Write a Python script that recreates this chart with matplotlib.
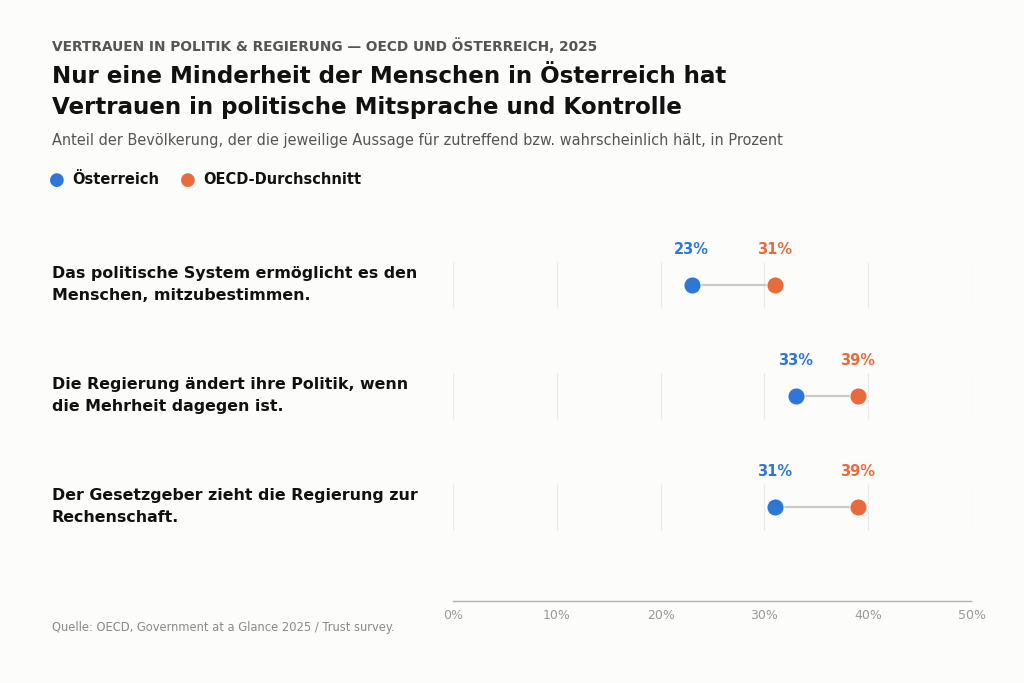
import matplotlib.pyplot as plt

plt.rcParams['font.family'] = ['DejaVu Sans']

statements = [
    "Das politische System ermöglicht es den\nMenschen, mitzubestimmen.",
    "Die Regierung ändert ihre Politik, wenn\ndie Mehrheit dagegen ist.",
    "Der Gesetzgeber zieht die Regierung zur\nRechenschaft.",
]
austria = [23, 33, 31]
oecd = [31, 39, 39]
xticks = [0, 10, 20, 30, 40, 50]

c_at = "#2e77d6"
c_oecd = "#e96b3c"
bg = "#fcfcfa"

fig = plt.figure(figsize=(10.24, 6.83), dpi=100, facecolor=bg)
W, H = 1024, 683
# axes: x 453..972 px, y 230..601 px
ax = fig.add_axes([453 / W, 1 - 601 / H, (972 - 453) / W, (601 - 230) / H])
ax.set_facecolor(bg)
ax.set_xlim(0, 50)
ax.set_ylim(2.847, -0.495)

for i in range(len(statements)):
    ax.vlines(xticks, i - 0.21, i + 0.21, color="#e9e9e9", lw=0.9, zorder=1)
    ax.plot([austria[i], oecd[i]], [i, i], color="#c9c9c9", lw=1.6, zorder=2)
    ax.scatter(austria[i], i, s=150, color=c_at, zorder=3, edgecolors="white", linewidths=0.6)
    ax.scatter(oecd[i], i, s=150, color=c_oecd, zorder=3, edgecolors="white", linewidths=0.6)
    ax.text(austria[i], i - 0.32, f"{austria[i]}%", color=c_at, fontsize=10.5,
            fontweight="bold", ha="center", va="center")
    ax.text(oecd[i], i - 0.32, f"{oecd[i]}%", color=c_oecd, fontsize=10.5,
            fontweight="bold", ha="center", va="center")
    ax.text(-0.773, i, statements[i], transform=ax.get_yaxis_transform(),
            fontsize=11.45, fontweight="bold", color="#111111", ha="left", va="center",
            linespacing=1.58)

for s in ["top", "right", "left"]:
    ax.spines[s].set_visible(False)
ax.spines["bottom"].set_color("#b0b0b0")
ax.spines["bottom"].set_linestyle((0, (1, 1)))
ax.spines["bottom"].set_linewidth(1.0)
ax.set_yticks([])
ax.set_xticks(xticks)
ax.set_xticklabels([f"{t}%" for t in xticks])
ax.tick_params(axis="x", length=0, pad=6, labelsize=9, labelcolor="#999999")

# header
fig.text(52 / W, 1 - 46 / H, "VERTRAUEN IN POLITIK & REGIERUNG — OECD UND ÖSTERREICH, 2025",
         fontsize=9.86, fontweight="bold", color="#555555", ha="left", va="center")
fig.text(52 / W, 1 - 92 / H,
         "Nur eine Minderheit der Menschen in Österreich hat\nVertrauen in politische Mitsprache und Kontrolle",
         fontsize=16.6, fontweight="bold", color="#111111", ha="left", va="center", linespacing=1.4)
fig.text(52 / W, 1 - 140 / H,
         "Anteil der Bevölkerung, der die jeweilige Aussage für zutreffend bzw. wahrscheinlich hält, in Prozent",
         fontsize=10.45, color="#555555", ha="left", va="center")

# legend
fig.text(57 / W, 1 - 180 / H, "●", fontsize=13, color=c_at, ha="center", va="center")
fig.text(72 / W, 1 - 180 / H, "Österreich", fontsize=10.5, fontweight="bold",
         color="#111111", ha="left", va="center")
fig.text(188 / W, 1 - 180 / H, "●", fontsize=13, color=c_oecd, ha="center", va="center")
fig.text(203 / W, 1 - 180 / H, "OECD-Durchschnitt", fontsize=10.5, fontweight="bold",
         color="#111111", ha="left", va="center")

fig.text(52 / W, 1 - 628 / H, "Quelle: OECD, Government at a Glance 2025 / Trust survey.",
         fontsize=8.3, color="#8a8a8a", ha="left", va="center")

fig.savefig("out.png", dpi=100, facecolor=bg)
